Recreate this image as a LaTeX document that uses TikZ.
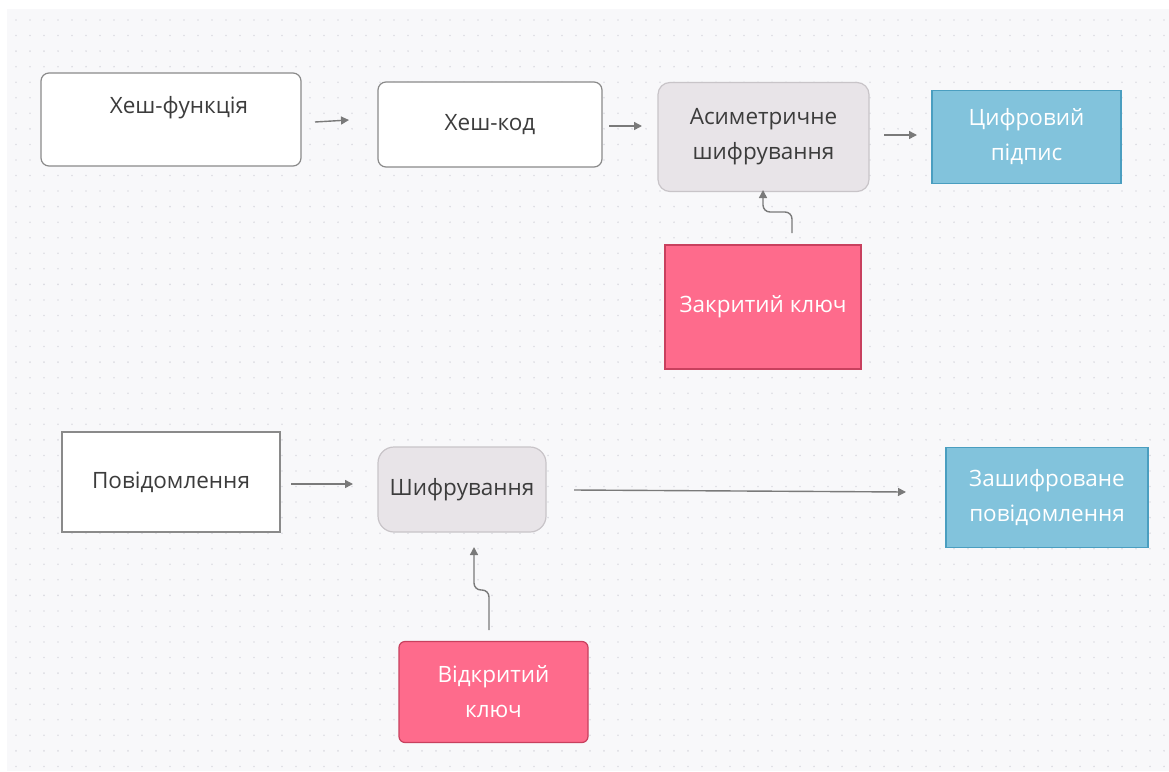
\documentclass[tikz,border=0pt]{standalone}
\usepackage{fontspec}
\setmainfont{Open Sans}
\usetikzlibrary{arrows.meta}
\definecolor{bgc}{HTML}{F8F8FA}
\definecolor{dotc}{HTML}{DCDCE2}
\definecolor{greyfill}{HTML}{E8E4E8}
\definecolor{greyline}{HTML}{C8C4C8}
\definecolor{blue1}{HTML}{82C3DC}
\definecolor{blue2}{HTML}{4A9EC0}
\definecolor{pink1}{HTML}{FE6B8C}
\definecolor{pink2}{HTML}{C8405E}
\definecolor{darkline}{HTML}{8A8A8A}
\definecolor{arr}{HTML}{7A7A7A}
\definecolor{txt}{HTML}{3C3C3C}
\begin{document}
\begin{tikzpicture}[x=1pt,y=-1pt,
  box/.style={draw, line width=1.2pt, inner sep=0pt, font=\fontsize{22.5}{35}\selectfont, align=center},
  whitebox/.style={box, fill=white, draw=darkline, text=txt},
  greybox/.style={box, fill=greyfill, draw=greyline, text=txt, rounded corners=12pt},
  bluebox/.style={box, fill=blue1, draw=blue2, text=white},
  pinkbox/.style={box, fill=pink1, draw=pink2, text=white},
  conn/.style={draw=arr, line width=1.4pt, -{Triangle[length=8pt,width=8pt]}}
]
\useasboundingbox (0,0) rectangle (1169,771);
\fill[white] (0,0) rectangle (1169,771);
\fill[bgc] (7,9) rectangle (1169,771);
\foreach \i in {0,...,82} {
  \foreach \j in {0,...,48} {
    \fill[dotc] (16+14*\i, 20+15.55*\j) circle (0.9);
  }
}
% boxes
\draw[darkline, line width=1.2pt, fill=white, rounded corners=8pt] (41,73) rectangle (301,166);
\node[text=txt, font=\fontsize{22.5}{35}\selectfont] (hf) at (179,108) {Хеш-функція};
\node[whitebox, rounded corners=8pt, minimum width=224pt, minimum height=85pt] (hk) at (490,124.5) {Хеш-код};
\node[greybox, minimum width=211pt, minimum height=109pt] (as) at (763.5,137) {Асиметричне\\шифрування};
\node[bluebox, minimum width=189pt, minimum height=93pt] (cp) at (1026.5,137) {Цифровий\\підпис};
\node[pinkbox, minimum width=196pt, minimum height=124pt] (zk) at (763,307) {Закритий ключ};
\node[whitebox, minimum width=218pt, minimum height=100pt] (pv) at (171,482) {Повідомлення};
\node[greybox, rounded corners=16pt, minimum width=168pt, minimum height=85pt] (sh) at (462,489.5) {Шифрування};
\node[bluebox, minimum width=202pt, minimum height=100pt] (zp) at (1047,497.5) {Зашифроване\\повідомлення};
\node[pinkbox, rounded corners=6pt, minimum width=189pt, minimum height=101pt] (vk) at (493.5,692) {Відкритий\\ключ};
% connectors
\coordinate (a1s) at (315,122);
\coordinate (a1e) at (349,120);
\draw[conn] (a1s) -- (a1e);
\coordinate (a2s) at (609,126);
\coordinate (a2e) at (642,126);
\draw[conn] (a2s) -- (a2e);
\coordinate (a3s) at (884,135);
\coordinate (a3e) at (917,135);
\draw[conn] (a3s) -- (a3e);
\coordinate (a4s) at (792,233);
\coordinate (a4e) at (763,190);
\draw[conn, rounded corners=7pt] (a4s) -- (792,212) -- (763,212) -- (a4e);
\coordinate (a5s) at (291,484);
\coordinate (a5e) at (353,484);
\draw[conn] (a5s) -- (a5e);
\coordinate (a6s) at (574,490);
\coordinate (a6e) at (906,492);
\draw[conn] (a6s) -- (a6e);
\coordinate (a7s) at (489,630);
\coordinate (a7e) at (474,547);
\draw[conn, rounded corners=7pt] (a7s) -- (489,590) -- (474,590) -- (a7e);
\end{tikzpicture}
\end{document}
